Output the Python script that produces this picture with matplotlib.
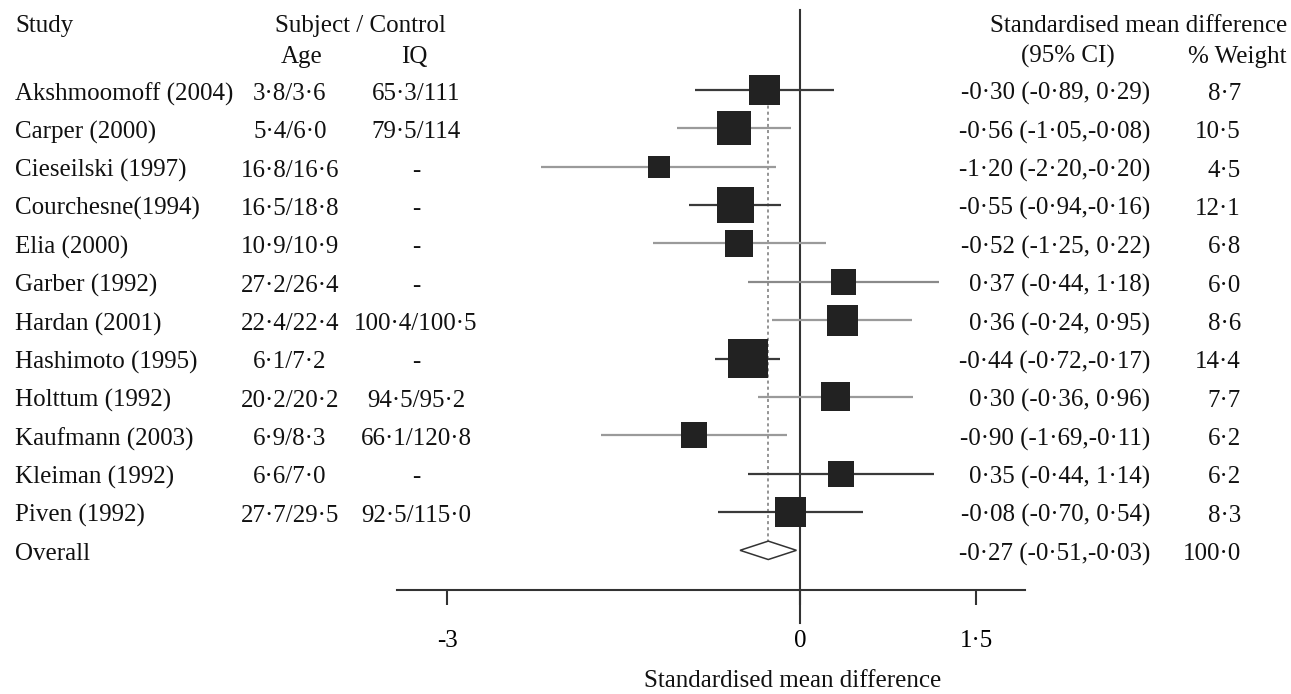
import matplotlib
matplotlib.use("Agg")
import matplotlib.pyplot as plt
from matplotlib.transforms import blended_transform_factory
from matplotlib.patches import Polygon

# ---------------- data ----------------
studies = ["Akshmoomoff (2004)", "Carper (2000)", "Cieseilski (1997)", "Courchesne(1994)",
           "Elia (2000)", "Garber (1992)", "Hardan (2001)", "Hashimoto (1995)",
           "Holttum (1992)", "Kaufmann (2003)", "Kleiman (1992)", "Piven (1992)"]
age = ["3·8/3·6", "5·4/6·0", "16·8/16·6", "16·5/18·8", "10·9/10·9", "27·2/26·4",
       "22·4/22·4", "6·1/7·2", "20·2/20·2", "6·9/8·3", "6·6/7·0", "27·7/29·5"]
iq = ["65·3/111", "79·5/114", "-", "-", "-", "-", "100·4/100·5", "-",
      "94·5/95·2", "66·1/120·8", "-", "92·5/115·0"]
smd = [-0.30, -0.56, -1.20, -0.55, -0.52, 0.37, 0.36, -0.44, 0.30, -0.90, 0.35, -0.08]
ci_lo = [-0.89, -1.05, -2.20, -0.94, -1.25, -0.44, -0.24, -0.72, -0.36, -1.69, -0.44, -0.70]
ci_hi = [0.29, -0.08, -0.20, -0.16, 0.22, 1.18, 0.95, -0.17, 0.96, -0.11, 1.14, 0.54]
weight = [8.7, 10.5, 4.5, 12.1, 6.8, 6.0, 8.6, 14.4, 7.7, 6.2, 6.2, 8.3]
overall_label = "Overall"
overall_est, overall_lo, overall_hi, overall_w = -0.27, -0.51, -0.03, 100.0
xticks = [-3, 0, 1.5]
xticklabels = ["-3", "0", "1·5"]

# line tone per row (style)
line_colors = ["#3a3a3a", "#9a9a9a", "#9a9a9a", "#3a3a3a", "#9a9a9a", "#8a8a8a",
               "#9a9a9a", "#3a3a3a", "#9a9a9a", "#9a9a9a", "#3a3a3a", "#3a3a3a"]


def fmt(v, d=2):
    return f"{v:.{d}f}".replace(".", "·")


def ci_text(e, l, h):
    sep = ", " if h >= 0 else ","
    return f"{fmt(e)} ({fmt(l)}{sep}{fmt(h)})"


plt.rcParams['font.family'] = ['Liberation Serif', 'DejaVu Serif']
FS = 18
W, H = 1291, 694
fig = plt.figure(figsize=(W / 100, H / 100), dpi=100)

row_px0, row_step = 90, 38.36
top_px, bot_px = 10, 590
ax = fig.add_axes([397 / W, (H - bot_px) / H, 628 / W, (bot_px - top_px) / H])
ax.set_xlim(-3.428, 1.914)
ax.set_ylim((bot_px - row_px0) / row_step, (top_px - row_px0) / row_step)

for s in ["top", "left", "right"]:
    ax.spines[s].set_visible(False)
ax.spines["bottom"].set_color("#333333")
ax.spines["bottom"].set_linewidth(1.5)
ax.set_yticks([])
ax.set_xticks(xticks)
ax.set_xticklabels(xticklabels, fontsize=FS)
ax.tick_params(axis="x", length=11, width=1.5, color="#333333", pad=18, direction="out")

n = len(studies)
rows = list(range(n))

# zero line (extends below axis)
trans_xa = blended_transform_factory(ax.transData, ax.transAxes)
ax.plot([0, 0], [1, -33 / (bot_px - top_px)], color="#333333", lw=1.5,
        transform=trans_xa, clip_on=False, zorder=2)

# dotted overall line
ax.plot([overall_est, overall_est], [-0.4, n], color="#777777", lw=1.1,
        ls=(0, (2, 2)), zorder=1)

# CI lines
ax.hlines(rows, ci_lo, ci_hi, colors=line_colors, lw=1.6, zorder=3)

# boxes, side proportional to sqrt(weight)
ax.scatter(smd, rows, marker="s", s=[57.2 * w for w in weight], c="#222222",
           linewidths=0, zorder=4)

# diamond
h = 0.24
diamond = Polygon([(overall_lo, n), (overall_est, n - h), (overall_hi, n), (overall_est, n + h)],
                  closed=True, facecolor="white", edgecolor="#333333", lw=1.1, zorder=4)
ax.add_patch(diamond)

# ---------------- texts ----------------
tr = blended_transform_factory(fig.transFigure, ax.transData)
DY = 0.1  # text sits slightly below the marker centre


def ypx(p):
    return (p - row_px0) / row_step


def put(xpx, y, s, ha="left"):
    ax.text(xpx / W, y + DY, s, transform=tr, ha=ha, va="center", fontsize=FS, color="#111111")


# headers
put(15, ypx(22), "Study")
put(360, ypx(22), "Subject / Control", ha="center")
put(302, ypx(53), "Age", ha="center")
put(414, ypx(53), "IQ", ha="center")
put(1287, ypx(22), "Standardised mean difference", ha="right")
put(1068, ypx(53), "(95% CI)", ha="center")
put(1287, ypx(53), "% Weight", ha="right")

for i in rows:
    put(15, i, studies[i])
    put(290, i, age[i], ha="center")
    put(416, i, iq[i], ha="center")
    put(1150, i, ci_text(smd[i], ci_lo[i], ci_hi[i]), ha="right")
    put(1241, i, fmt(weight[i], 1), ha="right")

put(15, n, overall_label)
put(1150, n, ci_text(overall_est, overall_lo, overall_hi), ha="right")
put(1241, n, fmt(overall_w, 1), ha="right")

fig.text(793 / W, 1 - 681 / H, "Standardised mean difference", ha="center", va="center",
         fontsize=FS, color="#111111")

fig.savefig("out.png", dpi=100)
